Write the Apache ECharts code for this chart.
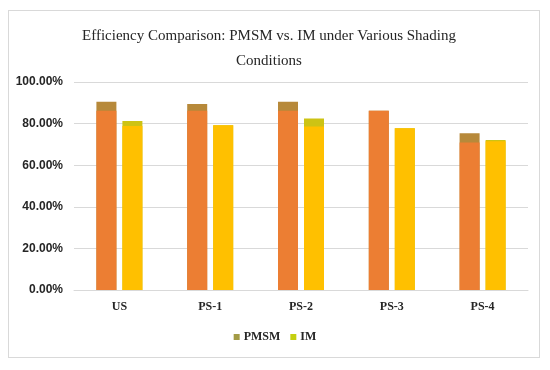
<!DOCTYPE html>
<html>
<head>
<meta charset="utf-8">
<script src="https://cdn.jsdelivr.net/npm/echarts@6/dist/echarts.min.js"></script>
<style>
html,body{margin:0;padding:0;background:#fff;}
#frame{position:absolute;left:8px;top:10px;width:532px;height:348px;border:1px solid #d9d9d9;box-sizing:border-box;}
#chart{position:absolute;left:0;top:0;width:550px;height:370px;}
</style>
</head>
<body>
<div id="frame"></div>
<div id="chart"></div>
<script>
const titleText = 'Efficiency Comparison: PMSM vs. IM under Various Shading\nConditions';
const categories = ['US', 'PS-1', 'PS-2', 'PS-3', 'PS-4'];
const yTicks = [0, 20, 40, 60, 80, 100];
// outer (full) bar heights, %
const pmsmValues = [90.5, 89.4, 90.5, 86.2, 75.4];
const imValues = [81.3, 79.2, 82.4, 77.8, 72.1];
// inner overlaid fill heights, %
const pmsmInner = [86.2, 86.2, 86.2, 86.2, 70.9];
const imInner = [78.9, 79.2, 78.6, 77.8, 71.5];

const chart = echarts.init(document.getElementById('chart'), null, {renderer: 'canvas'});
const serif = '"Liberation Serif", "DejaVu Serif", serif';
const sans = '"Liberation Sans", "DejaVu Sans", sans-serif';
const barW = 20;
chart.setOption({
  animation: false,
  title: {
    text: titleText,
    left: 264,
    top: 19,
    textAlign: 'center',
    textStyle: {fontFamily: serif, fontSize: 15, fontWeight: 'normal', color: '#262626', lineHeight: 25}
  },
  legend: {
    data: [
      {name: 'PMSM', itemStyle: {color: '#A39B45'}},
      {name: 'IM', itemStyle: {color: '#C4CF10'}}
    ],
    bottom: 22,
    left: 'center',
    itemWidth: 6,
    itemHeight: 6,
    itemGap: 10,
    icon: 'rect',
    textStyle: {fontFamily: serif, fontSize: 12, fontWeight: 'bold', color: '#262626', padding: [0, 0, 0, -1]}
  },
  grid: {left: 74, right: 22, top: 82, bottom: 80},
  xAxis: [
    {
      type: 'category', data: categories,
      axisLine: {lineStyle: {color: '#d9d9d9'}}, axisTick: {show: false},
      axisLabel: {fontFamily: serif, fontSize: 12, fontWeight: 'bold', color: '#262626', margin: 11}
    },
    {type: 'category', data: categories, show: false, position: 'bottom'}
  ],
  yAxis: {
    type: 'value', min: 0, max: 100, interval: 20,
    axisLine: {show: false}, axisTick: {show: false},
    splitLine: {lineStyle: {color: '#d9d9d9', width: 1}},
    axisLabel: {
      fontFamily: sans, fontSize: 12, fontWeight: 'bold', color: '#262626', margin: 11,
      formatter: v => yTicks.includes(v) ? v.toFixed(2) + '%' : ''
    }
  },
  series: [
    {name: 'PMSM', type: 'bar', xAxisIndex: 0, data: pmsmValues, barWidth: barW, barGap: '30%',
     itemStyle: {color: '#B7893A'}},
    {name: 'IM', type: 'bar', xAxisIndex: 0, data: imValues, barWidth: barW, barGap: '30%',
     itemStyle: {color: '#CDC314'}},
    {name: 'PMSM-fill', type: 'bar', xAxisIndex: 1, data: pmsmInner, barWidth: barW, barGap: '30%',
     itemStyle: {color: '#EC7E33'}},
    {name: 'IM-fill', type: 'bar', xAxisIndex: 1, data: imInner, barWidth: barW, barGap: '30%',
     itemStyle: {color: '#FFC000'}}
  ]
});
</script>
</body>
</html>
